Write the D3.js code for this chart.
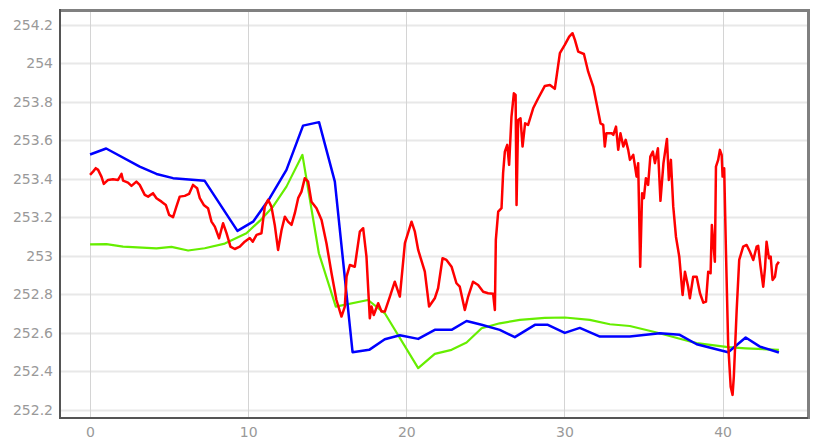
<!DOCTYPE html>
<html>
<head>
<meta charset="utf-8">
<script src="https://cdnjs.cloudflare.com/ajax/libs/d3/7.8.5/d3.min.js"></script>
<style>
  body { margin: 0; background: #fff; }
  #chart text { font-family: "DejaVu Sans", sans-serif; font-size: 14px; fill: #999; }
</style>
</head>
<body>
<div id="chart"></div>
<script>
// tick labels
var xTicks = [0, 10, 20, 30, 40];
var yTicks = [252.2, 252.4, 252.6, 252.8, 253, 253.2, 253.4, 253.6, 253.8, 254, 254.2];

// red series (raw signal)
var redX = [0.00,0.19,0.36,0.51,0.72,0.87,1.14,1.45,1.77,1.99,2.09,2.40,2.62,2.93,3.14,3.46,3.67,3.98,4.20,4.52,
  4.79,5.00,5.25,5.46,5.67,5.99,6.26,6.51,6.77,6.94,7.19,7.46,7.68,7.89,8.16,8.41,8.63,8.88,9.15,9.47,
  9.78,10.10,10.29,10.53,10.84,11.05,11.26,11.47,11.68,11.89,12.11,12.32,12.52,12.74,12.95,13.16,13.37,13.58,13.79,14.00,
  14.32,14.64,14.95,15.27,15.58,15.90,16.11,16.22,16.43,16.74,17.06,17.27,17.48,17.69,17.80,17.94,18.22,18.43,18.64,18.96,
  19.27,19.59,19.91,20.33,20.54,20.75,21.17,21.44,21.80,22.01,22.29,22.54,22.86,23.17,23.38,23.70,23.91,24.22,24.54,24.86,
  25.17,25.49,25.60,25.66,25.81,26.02,26.12,26.23,26.38,26.50,26.65,26.80,26.91,26.97,27.07,27.22,27.35,27.51,27.70,28.02,
  28.34,28.76,29.08,29.39,29.71,30.02,30.30,30.51,30.66,30.87,31.23,31.50,31.82,32.03,32.28,32.45,32.55,32.65,32.98,33.09,
  33.26,33.40,33.54,33.72,33.87,34.03,34.14,34.35,34.56,34.66,34.79,34.91,35.02,35.15,35.29,35.43,35.59,35.72,35.91,36.07,
  36.26,36.48,36.60,36.73,36.88,37.05,37.26,37.47,37.62,37.82,37.93,38.14,38.36,38.57,38.78,38.95,39.09,39.24,39.32,39.51,
  39.58,39.72,39.83,39.94,40.00,40.10,40.21,40.35,40.51,40.63,40.71,40.89,41.05,41.30,41.52,41.73,41.94,42.15,42.25,42.40,
  42.57,42.68,42.78,42.93,43.04,43.16,43.31,43.42,43.56];
var redY = [253.421,253.438,253.456,253.447,253.412,253.374,253.395,253.398,253.395,253.426,253.391,253.381,253.364,253.386,253.369,253.317,253.308,253.326,253.300,253.282,
  253.265,253.213,253.201,253.256,253.308,253.312,253.322,253.369,253.352,253.300,253.265,253.248,253.178,253.152,253.092,253.170,253.118,253.048,253.036,253.048,
  253.074,253.093,253.074,253.109,253.118,253.256,253.291,253.256,253.161,253.031,253.135,253.204,253.178,253.161,253.222,253.300,253.334,253.404,253.386,253.282,
  253.248,253.187,253.066,252.910,252.771,252.685,252.737,252.892,252.953,252.944,253.126,253.144,252.996,252.676,252.737,252.693,252.754,252.711,252.711,252.789,
  252.866,252.789,253.066,253.178,253.126,253.031,252.918,252.737,252.780,252.832,252.988,252.979,252.944,252.858,252.840,252.719,252.789,252.866,252.849,252.814,
  252.806,252.803,252.719,253.083,253.230,253.248,253.430,253.542,253.577,253.473,253.724,253.845,253.836,253.265,253.706,253.715,253.568,253.689,253.681,253.767,
  253.819,253.883,253.888,253.868,254.053,254.096,254.139,254.157,254.122,254.061,254.049,253.957,253.879,253.793,253.689,253.681,253.568,253.637,253.637,253.629,
  253.672,253.551,253.637,253.568,253.603,253.551,253.499,253.525,253.412,253.482,252.944,253.326,253.300,253.404,253.369,253.516,253.542,253.482,253.559,253.286,
  253.482,253.608,253.395,253.499,253.256,253.100,252.996,252.797,252.918,252.840,252.780,252.892,252.892,252.806,252.757,252.763,252.918,252.910,253.161,252.970,
  253.464,253.499,253.551,253.525,253.412,253.456,253.031,252.546,252.321,252.278,252.373,252.719,252.979,253.048,253.057,253.022,252.979,253.048,253.052,252.944,
  252.840,252.936,253.074,252.988,252.996,252.875,252.892,252.953,252.970];

// blue series
var blueX = [0,1.02,3.14,4.2,5.25,7.25,9.32,10.31,11.37,12.42,13.47,14.48,15.48,16.6,17.65,18.64,19.59,20.75,21.8,22.86,
  23.81,24.76,25.91,26.86,28.13,28.95,30.02,30.97,32.24,34.13,36.03,37.29,38.36,40.35,41.46,42.36,43.56];
var blueY = [253.527,253.558,253.464,253.426,253.404,253.39,253.13,253.178,253.301,253.447,253.677,253.695,253.386,252.5,252.512,252.567,252.588,252.569,252.616,252.616,
  252.662,252.642,252.616,252.578,252.642,252.642,252.60,252.626,252.581,252.581,252.598,252.59,252.541,252.50,252.576,252.529,252.498];

// green series
var greenX = [0,1.04,2.09,4.2,5.15,6.2,7.25,8.52,9.89,10.73,11.57,12.42,13.43,14.47,15.54,17.58,18.64,20.75,21.8,22.86,
  23.81,24.76,25.91,27.18,28.76,30.02,31.6,32.87,34.13,35.83,37.29,38.36,40.35,41.46,43.56];
var greenY = [253.06,253.061,253.048,253.039,253.047,253.028,253.04,253.064,253.118,253.182,253.256,253.36,253.525,253.014,252.737,252.771,252.702,252.417,252.491,252.512,
  252.55,252.624,252.65,252.668,252.678,252.68,252.668,252.645,252.636,252.602,252.57,252.547,252.526,252.52,252.512];

var W = 821, H = 446;
var margin = {left: 60, right: 808, top: 10.5, bottom: 418};

var svg = d3.select('#chart').append('svg')
  .attr('width', W)
  .attr('height', H);

var x = d3.scaleLinear().domain([-1.9, 45.4]).range([margin.left, margin.right]);
var y = d3.scaleLinear().domain([252.158, 254.275]).range([margin.bottom, margin.top]);

// grid
svg.append('g')
  .selectAll('line.hgrid')
  .data(yTicks)
  .enter().append('line')
    .attr('x1', margin.left).attr('x2', margin.right)
    .attr('y1', function(d) { return Math.round(y(d)) + 0.5; })
    .attr('y2', function(d) { return Math.round(y(d)) + 0.5; })
    .attr('stroke', '#e8e8e8')
    .attr('stroke-width', 2);

svg.append('g')
  .selectAll('line.vgrid')
  .data(xTicks)
  .enter().append('line')
    .attr('y1', margin.top).attr('y2', margin.bottom)
    .attr('x1', function(d) { return Math.round(x(d)) + 0.5; })
    .attr('x2', function(d) { return Math.round(x(d)) + 0.5; })
    .attr('stroke', '#d4d4d4')
    .attr('stroke-width', 1);

// axes (labels only)
var yAxis = d3.axisLeft(y).tickValues(yTicks).tickSize(0).tickPadding(7)
  .tickFormat(function(d) { return String(+d.toFixed(1)); });
var xAxis = d3.axisBottom(x).tickValues(xTicks).tickSize(0).tickPadding(9);

var yg = svg.append('g').attr('transform', 'translate(' + margin.left + ',0)').call(yAxis);
var xg = svg.append('g').attr('transform', 'translate(0,' + margin.bottom + ')').call(xAxis);
yg.select('.domain').remove();
xg.select('.domain').remove();

// lines
svg.append('clipPath').attr('id', 'clip')
  .append('rect').attr('x', margin.left).attr('y', margin.top)
  .attr('width', margin.right - margin.left).attr('height', margin.bottom - margin.top);

function series(xs, ys) {
  return xs.map(function(v, i) { return [v, ys[i]]; });
}
var line = d3.line()
  .x(function(d) { return x(d[0]); })
  .y(function(d) { return y(d[1]); });

var plot = svg.append('g').attr('clip-path', 'url(#clip)');
plot.append('path').datum(series(greenX, greenY))
  .attr('d', line).attr('fill', 'none').attr('stroke', '#66ee00')
  .attr('stroke-width', 2.2).attr('stroke-linejoin', 'round');
plot.append('path').datum(series(blueX, blueY))
  .attr('d', line).attr('fill', 'none').attr('stroke', '#0000ff')
  .attr('stroke-width', 2.5).attr('stroke-linejoin', 'round');
plot.append('path').datum(series(redX, redY))
  .attr('d', line).attr('fill', 'none').attr('stroke', '#ff0000')
  .attr('stroke-width', 2.5).attr('stroke-linejoin', 'round');

// frame
svg.append('line').attr('x1', margin.left).attr('x2', margin.right + 2)
  .attr('y1', margin.top).attr('y2', margin.top)
  .attr('stroke', '#808080').attr('stroke-width', 3);
svg.append('line').attr('x1', margin.right + 0.5).attr('x2', margin.right + 0.5)
  .attr('y1', margin.top - 1.5).attr('y2', margin.bottom + 1)
  .attr('stroke', '#808080').attr('stroke-width', 3);
svg.append('line').attr('x1', margin.left).attr('x2', margin.left)
  .attr('y1', margin.top - 1.5).attr('y2', margin.bottom + 1)
  .attr('stroke', '#555').attr('stroke-width', 2);
svg.append('line').attr('x1', margin.left - 1).attr('x2', margin.right)
  .attr('y1', margin.bottom).attr('y2', margin.bottom)
  .attr('stroke', '#555').attr('stroke-width', 2);
</script>
</body>
</html>
